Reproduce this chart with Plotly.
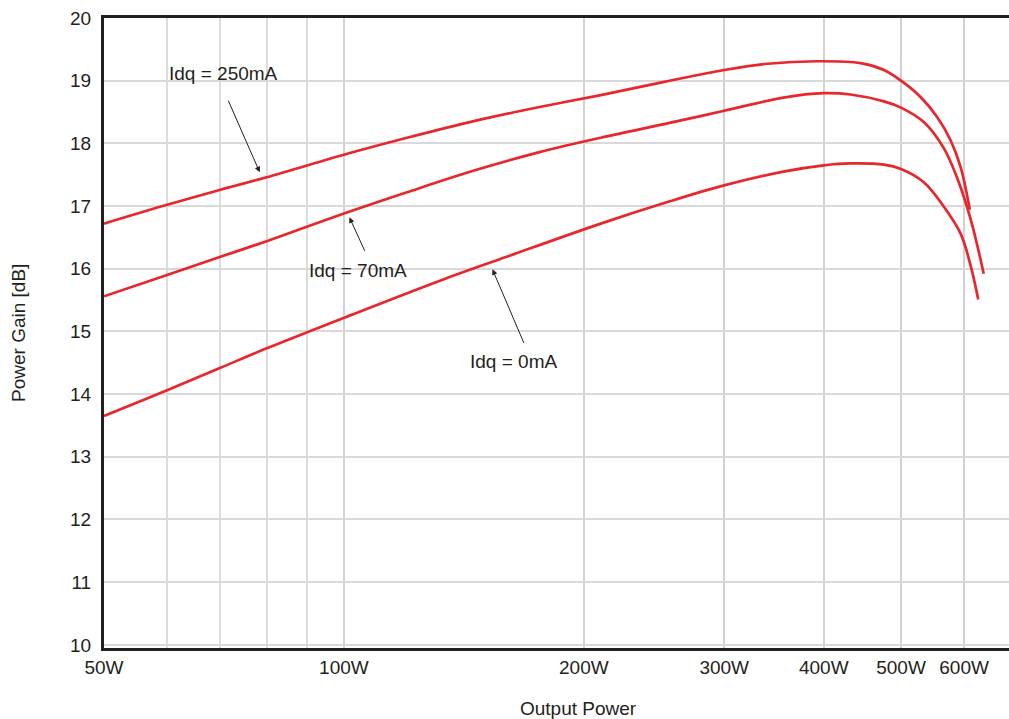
import numpy as np
import plotly.graph_objects as go

# ---- data ----
w_250 = [50, 60, 70, 80, 102, 120, 146, 176, 210, 254, 300, 340, 392, 445, 476, 500, 529, 555, 577, 594, 610]
g_250 = [16.72, 17.02, 17.26, 17.46, 17.85, 18.09, 18.36, 18.58, 18.77, 18.99, 19.17, 19.27, 19.31, 19.28, 19.17, 19.00, 18.74, 18.42, 18.05, 17.62, 16.94]

w_70 = [50, 60, 70, 80, 100, 120, 146, 176, 210, 257, 300, 356, 400, 432, 476, 500, 534, 566, 588, 612, 635]
g_70 = [15.56, 15.90, 16.19, 16.44, 16.88, 17.22, 17.57, 17.86, 18.09, 18.33, 18.52, 18.73, 18.80, 18.78, 18.67, 18.57, 18.34, 17.92, 17.45, 16.77, 15.92]

w_0 = [50, 60, 70, 80, 102, 132, 160, 210, 257, 300, 356, 400, 432, 476, 500, 534, 566, 594, 612, 625]
g_0 = [13.65, 14.06, 14.42, 14.73, 15.26, 15.81, 16.19, 16.72, 17.08, 17.33, 17.55, 17.65, 17.68, 17.66, 17.59, 17.38, 16.99, 16.56, 16.03, 15.51]

x_tickvals = [50, 100, 200, 300, 400, 500, 600]
x_ticktext = ["50W", "100W", "200W", "300W", "400W", "500W", "600W"]
x_minor = [60, 70, 80, 90]
y_tickvals = list(range(10, 21))

series = [
    ("Idq = 250mA", w_250, g_250),
    ("Idq = 70mA", w_70, g_70),
    ("Idq = 0mA", w_0, g_0),
]

RED = "#e8262c"
INK = "#231f20"
FONT = "Liberation Sans, Arial, Helvetica, sans-serif"
FS = 19

fig = go.Figure()
for name, xs, ys in series:
    fig.add_trace(go.Scatter(
        x=xs, y=ys, mode="lines", name=name,
        line=dict(color=RED, width=2.7, shape="spline", smoothing=1.0),
        showlegend=False, hoverinfo="skip",
    ))

def lg(v):
    return float(np.log10(v))

annotations = [
    # labels
    dict(x=lg(70.6), y=19.12, text="Idq = 250mA", showarrow=False),
    dict(x=lg(104), y=15.97, text="Idq = 70mA", showarrow=False),
    dict(x=lg(163), y=14.52, text="Idq = 0mA", showarrow=False),
    # arrows
    dict(x=lg(78.4), y=17.54, text="", showarrow=True, ax=-32, ay=-73,
         arrowhead=2, arrowsize=1.1, arrowwidth=1, arrowcolor=INK),
    dict(x=lg(101.6), y=16.82, text="", showarrow=True, ax=16, ay=35,
         arrowhead=2, arrowsize=1.1, arrowwidth=1, arrowcolor=INK),
    dict(x=lg(153.6), y=15.99, text="", showarrow=True, ax=32, ay=75,
         arrowhead=2, arrowsize=1.1, arrowwidth=1, arrowcolor=INK),
    # axis titles
    dict(xref="x", yref="paper", x=lg(197), y=0, yanchor="middle", yshift=-60,
         text="Output Power", showarrow=False),
    dict(xref="paper", yref="paper", x=0, y=0.5, xanchor="center", xshift=-86,
         text="Power Gain [dB]", textangle=-90, showarrow=False),
]
for a in annotations:
    a.setdefault("xref", "x")
    a.setdefault("yref", "y")
    a["font"] = dict(family=FONT, size=FS, color=INK)
    fig.add_annotation(**a)

left_log = np.log10(50)
fig.update_xaxes(
    type="log",
    range=[left_log, left_log + 905 / 797],
    tickvals=x_tickvals, ticktext=x_ticktext,
    tickfont=dict(family=FONT, size=FS, color=INK),
    ticks="", ticklen=0,
    showgrid=True, gridcolor="#d2d2d2", gridwidth=1.5,
    minor=dict(tickvals=x_minor, showgrid=True, gridcolor="#dcdcdc", gridwidth=1.5, ticks=""),
    showline=True, linecolor=INK, linewidth=3, mirror=True,
    zeroline=False,
)
fig.update_yaxes(
    range=[9.95, 20.0],
    tickvals=y_tickvals,
    tickfont=dict(family=FONT, size=FS, color=INK),
    ticks="outside", ticklen=6, tickcolor="rgba(0,0,0,0)",
    showgrid=True, gridcolor="#d9d9d9", gridwidth=1.5,
    showline=True, linecolor=INK, linewidth=3, mirror=False,
    zeroline=False,
)
fig.update_layout(
    width=1009, height=719,
    margin=dict(l=104, r=0, t=18, b=71),
    paper_bgcolor="white", plot_bgcolor="white",
    font=dict(family=FONT, size=FS, color=INK),
)

fig.write_html("out.html")
